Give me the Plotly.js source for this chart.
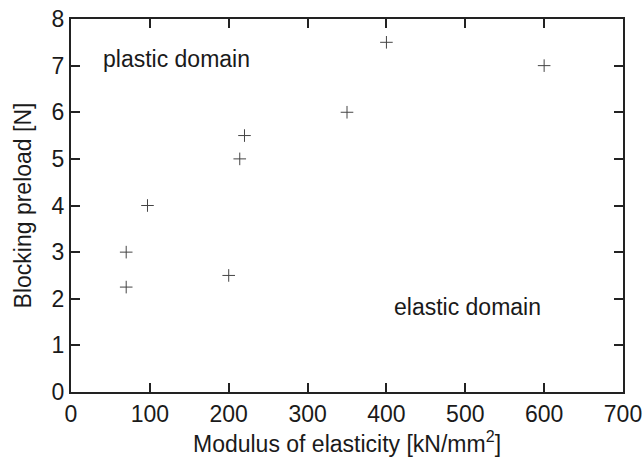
<!DOCTYPE html>
<html><head><meta charset="utf-8">
<script src="https://cdn.plot.ly/plotly-3.0.1.min.js"></script>
<style>html,body{margin:0;padding:0;background:#fff}</style>
</head><body><div id="chart" style="width:643px;height:459px"></div>
<script>
const modulus = [70, 70, 97, 200, 214, 220, 350, 400, 600];
const preload = [3, 2.25, 4, 2.5, 5, 5.5, 6, 7.5, 7];
const xTicks = [0, 100, 200, 300, 400, 500, 600, 700];
const yTicks = [0, 1, 2, 3, 4, 5, 6, 7, 8];
const labels = ["plastic domain", "elastic domain"];
const labelX = [38, 503];
const labelY = [7.15, 1.82];

const font = {family: "Liberation Sans, Arial, sans-serif", size: 23, color: "#1a1a1a"};
const axisCommon = {
  showline: true, linewidth: 2, linecolor: "#222", mirror: "ticks",
  ticks: "inside", ticklen: 9, tickwidth: 2, tickcolor: "#222",
  showgrid: false, zeroline: false, tickfont: font
};
Plotly.newPlot("chart", [{
  x: modulus, y: preload, type: "scatter", mode: "markers",
  marker: {symbol: "cross-thin-open", size: 9, line: {width: 1, color: "#444"}, color: "#444"},
  hoverinfo: "none"
}], {
  width: 643, height: 459,
  margin: {l: 71, r: 20, t: 19, b: 67},
  paper_bgcolor: "#fff", plot_bgcolor: "#fff",
  font: font, showlegend: false,
  xaxis: Object.assign({}, axisCommon, {range: [0, 700], tickvals: xTicks,
    title: {text: "Modulus of elasticity [kN/mm<sup>2</sup>]", font: font, standoff: 10}}),
  yaxis: Object.assign({}, axisCommon, {range: [0, 8], tickvals: yTicks,
    title: {text: "Blocking preload [N]", font: font, standoff: 14}}),
  annotations: labels.map((t, i) => ({
    text: t, x: labelX[i], y: labelY[i], xref: "x", yref: "y",
    xanchor: i === 0 ? "left" : "center", yanchor: "middle",
    showarrow: false, font: font
  }))
}, {staticPlot: true});
</script></body></html>
